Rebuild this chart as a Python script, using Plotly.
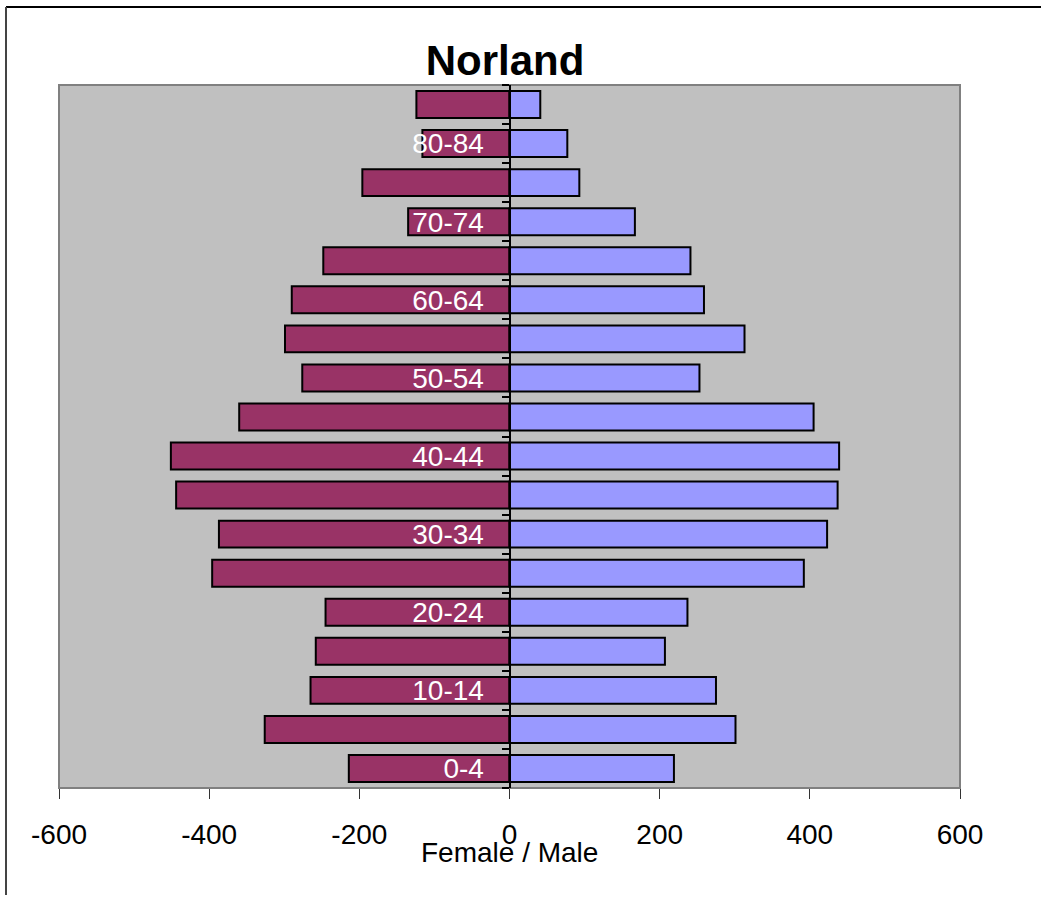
import plotly.graph_objects as go

age_groups = ["0-4", "5-9", "10-14", "15-19", "20-24", "25-29", "30-34", "35-39",
              "40-44", "45-49", "50-54", "55-59", "60-64", "65-69", "70-74", "75-79",
              "80-84", "85+"]
female = [-214, -326, -265, -258, -245, -396, -387, -444,
          -451, -360, -276, -299, -290, -248, -135, -196, -116, -124]
male = [219, 301, 275, 207, 237, 392, 423, 437,
        439, 405, 253, 313, 259, 241, 167, 93, 77, 41]
tick_labels = [g if i % 2 == 0 else "" for i, g in enumerate(age_groups)]
x_ticks = [-600, -400, -200, 0, 200, 400, 600]

FONT = "Arial, 'Liberation Sans', sans-serif"

W, H = 1041, 895
L, R, T, B = 59, 81, 85, 107
PW, PH = W - L - R, H - T - B

fig = go.Figure()
fig.add_trace(go.Bar(y=age_groups, x=female, orientation="h", name="Female",
                     marker=dict(color="#993366", line=dict(color="black", width=2))))
fig.add_trace(go.Bar(y=age_groups, x=male, orientation="h", name="Male",
                     marker=dict(color="#9999FF", line=dict(color="black", width=2))))

fig.update_layout(
    width=W, height=H,
    margin=dict(l=L, r=R, t=T, b=B),
    barmode="overlay", bargap=0.31,
    showlegend=False,
    paper_bgcolor="white", plot_bgcolor="#C0C0C0",
    title=dict(text="<b>Norland</b>", font=dict(family=FONT, size=42, color="black"),
               x=505 / W, xanchor="center", y=1 - 60 / H, yanchor="middle", yref="container"),
    xaxis=dict(range=[-600, 600], tickmode="array", tickvals=x_ticks,
               ticktext=[str(v) for v in x_ticks], showgrid=False, zeroline=False,
               ticks="outside", ticklen=10, tickcolor="#333333", tickwidth=1,
               tickfont=dict(family=FONT, size=28, color="black"),
               showline=False, ticklabelstandoff=11),
    yaxis=dict(type="category", categoryorder="array", categoryarray=age_groups,
               tickmode="array", tickvals=age_groups, ticktext=tick_labels,
               anchor="free", position=0.5, tickson="boundaries",
               showline=True, linecolor="black", linewidth=2,
               ticks="outside", ticklen=7, tickcolor="black", tickwidth=2,
               tickfont=dict(family=FONT, size=28, color="white"),
               ticklabelstandoff=19, showgrid=False, zeroline=False),
)

# plot area border
fig.add_shape(type="rect", xref="paper", yref="paper", x0=0, x1=1, y0=0, y1=1,
              line=dict(color="#808080", width=2), layer="below")
# outer frame (top and left edges visible)
fig.add_shape(type="line", xref="paper", yref="paper",
              x0=(6 - L) / PW, x1=(W - L) / PW, y0=1 + (T - 7) / PH, y1=1 + (T - 7) / PH,
              line=dict(color="black", width=2))
fig.add_shape(type="line", xref="paper", yref="paper",
              x0=(6 - L) / PW, x1=(6 - L) / PW, y0=-B / PH, y1=1 + (T - 7) / PH,
              line=dict(color="#444444", width=2))

fig.add_annotation(text="Female / Male", xref="paper", yref="paper",
                   x=0.5, y=(PH - (852 - T)) / PH, xanchor="center", yanchor="middle",
                   showarrow=False, font=dict(family=FONT, size=28, color="black"))

fig.write_html("out.html",
               config={"displayModeBar": False},
               post_script="document.body.style.margin='0';document.body.style.overflow='hidden';")
